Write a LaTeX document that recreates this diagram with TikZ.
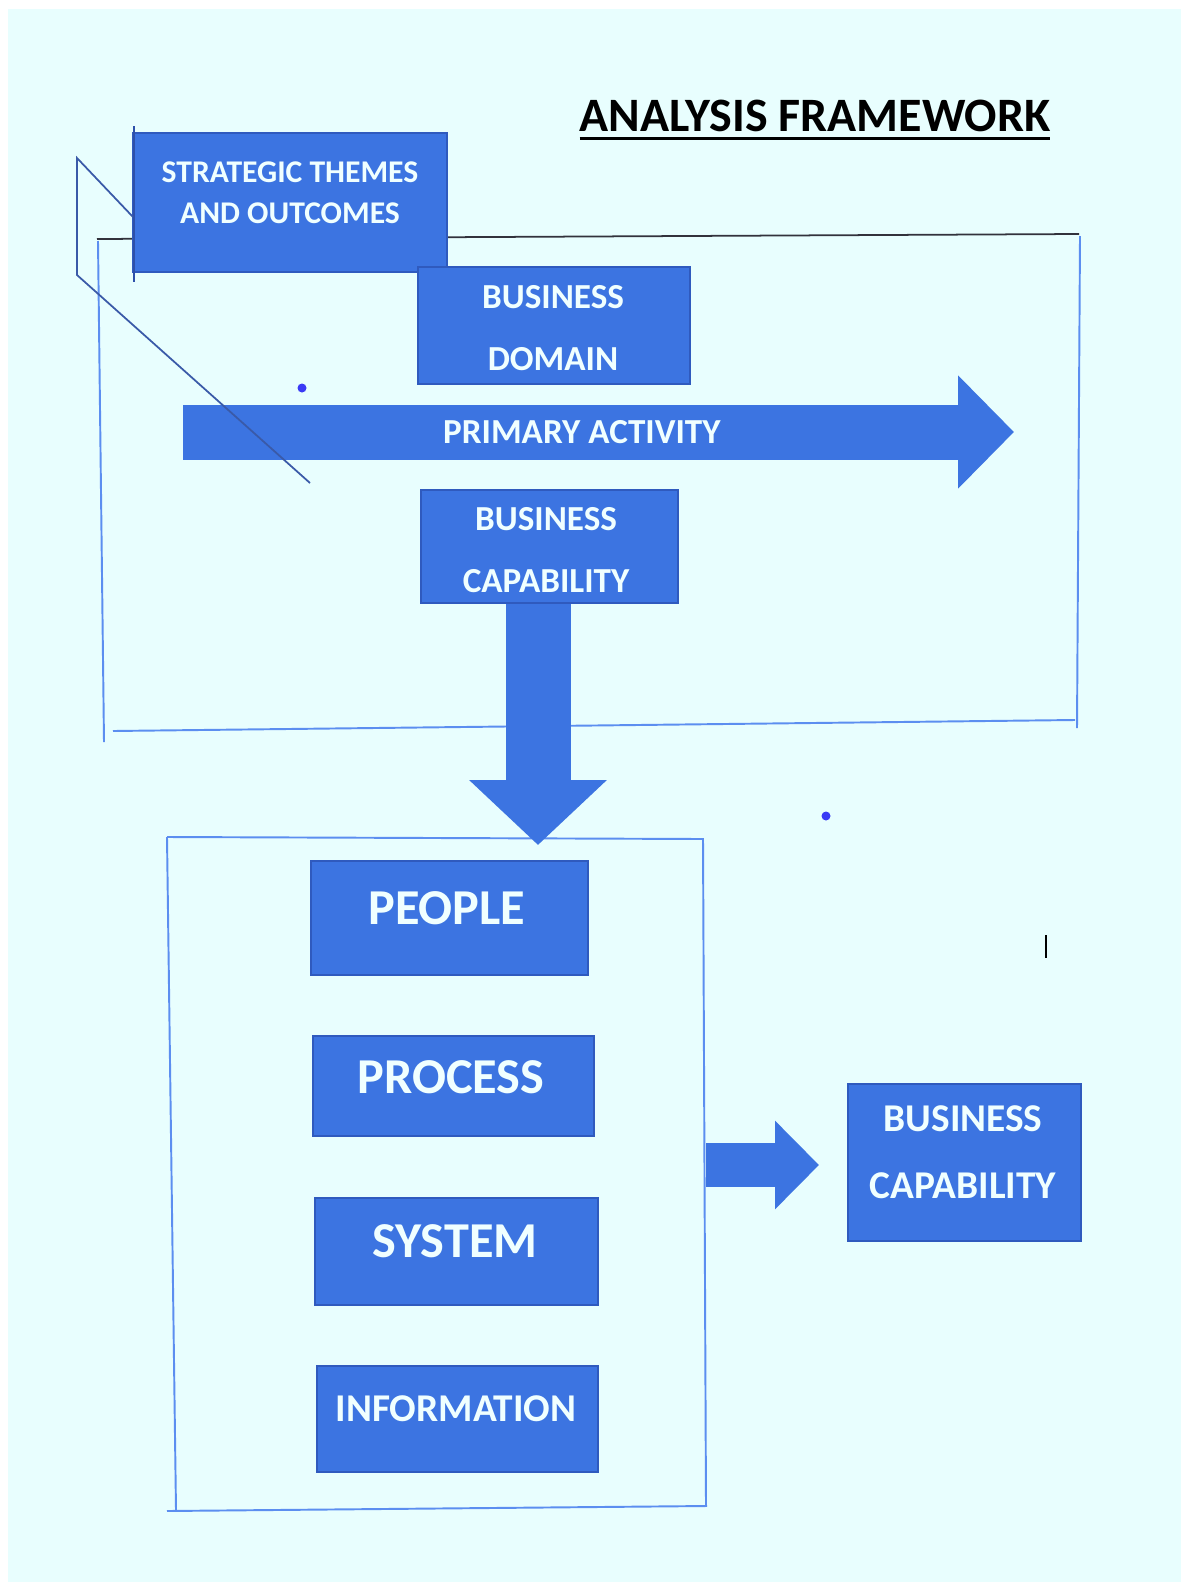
\documentclass[tikz,border=0pt]{standalone}
\usepackage{fontspec}
\setmainfont{Carlito}
\usetikzlibrary{arrows.meta,fit,positioning}
\definecolor{bgcyan}{RGB}{232,254,254}
\definecolor{boxblue}{RGB}{60,116,225}
\definecolor{boxedge}{RGB}{47,90,190}
\definecolor{frameblue}{RGB}{92,142,240}
\definecolor{sketchblue}{RGB}{58,90,168}
\definecolor{dotblue}{RGB}{58,58,245}
\definecolor{boxwhite}{RGB}{240,255,255}

\begin{document}
\begin{tikzpicture}[x=0.02cm,y=-0.02cm,every node/.style={inner sep=0pt,outer sep=0pt},
	panel/.style={fill=boxblue,draw=boxedge,line width=0.6pt,inner sep=0pt},
	boxtext/.style={text=boxwhite,align=center},
	smalltxt/.style={boxtext,font=\bfseries\fontsize{18}{23.2}\selectfont},
	midtxt/.style={boxtext,font=\bfseries\fontsize{20}{35.7}\selectfont},
	captxt/.style={boxtext,font=\bfseries\fontsize{22.4}{38}\selectfont},
	bigtxt/.style={boxtext,font=\bfseries\fontsize{28.6}{34}\selectfont},
	frameline/.style={draw=frameblue,line width=1.1pt},
	bigarrow/.style={draw=boxblue,line cap=butt}]
	% page and background
	\useasboundingbox (0,0) rectangle (1181,1582);
	\fill[white] (0,0) rectangle (1181,1582);
	\fill[bgcyan] (8,9) rectangle (1181,1582);

	% title
	\node[font=\bfseries\fontsize{27.3}{32}\selectfont] (title) at (815,116) {ANALYSIS FRAMEWORK};
	\draw[line width=1.7pt] ([yshift=-0.14cm]title.south west) -- ([yshift=-0.14cm]title.south east);

	% upper frame
	\draw[draw={rgb,255:red,50;green,50;blue,60},line width=1pt] (97,239) -- (1079,234);
	\draw[frameline] (1080,236) -- (1077,728);
	\draw[frameline] (113,731) -- (1075,720);
	\draw[frameline] (98,241) -- (104,742);

	% lower frame
	\draw[frameline] (167,837) -- (703,839);
	\draw[frameline] (703,838) -- (706,1506);
	\draw[frameline] (167,1511) -- (707,1506);
	\draw[frameline] (167,837) -- (176,1510);

	% primary activity arrow
	\coordinate (pa-tail) at (183,432);
	\coordinate (pa-head) at (1014,432);
	\draw[bigarrow,line width=1.1cm,-{Triangle[length=1.12cm,width=2.2cm]}] (pa-tail) -- (pa-head)
		node[pos=0.48,midtxt] (pa-text) {PRIMARY ACTIVITY};

	% boxes
	\node[panel,fit={(133,133) (447,272)}] (strategic) {};
	\draw[draw={rgb,255:red,45;green,80;blue,170},line width=1.2pt] (134,126) -- (134,282);
	\node[smalltxt] (strategic-text) at (290,192.5) {STRATEGIC THEMES\\AND OUTCOMES};

	\node[panel,fit={(418,267) (690,384)}] (domain) {};
	\node[midtxt] (domain-text) at (553,328) {BUSINESS\\DOMAIN};

	% capability arrow down
	\coordinate (down-tip) at (538,845);
	\draw[bigarrow,line width=1.3cm,-{Triangle[length=1.3cm,width=2.68cm]}] (538,600) -- (down-tip);

	\node[panel,fit={(421,490) (678,603)}] (cap) {};
	\node[midtxt] (cap-text) at (546,550) {BUSINESS\\CAPABILITY};

	\node[panel,fit={(311,861) (588,975)}] (people) {};
	\node[bigtxt] (people-text) at (447,908) {PEOPLE};

	\node[panel,fit={(313,1036) (594,1136)}] (process) {};
	\node[bigtxt] (process-text) at (451,1077) {PROCESS};

	\node[panel,fit={(315,1198) (598,1305)}] (system) {};
	\node[bigtxt] (system-text) at (455,1241) {SYSTEM};

	\node[panel,fit={(317,1366) (598,1472)}] (information) {};
	\node[captxt] (information-text) at (456,1409) {INFORMATION};

	\node[panel,fit={(848,1084) (1081,1241)}] (result) {};
	\node[captxt] (result-text) at (963,1152.5) {BUSINESS\\CAPABILITY};

	% arrow to result
	\coordinate (right-tail) at (706,1165);
	\coordinate (right-tip) at (819,1165);
	\draw[bigarrow,line width=0.88cm,-{Triangle[length=0.88cm,width=1.72cm]}] (right-tail) -- (right-tip);

	% stray marks
	\draw[sketchblue,line width=1pt] (133,217) -- (77,158) -- (77,275) -- (310,483);
	\fill[dotblue] (302,388) circle (4.5);
	\fill[dotblue] (826,816) circle (4.5);
	\draw[black,line width=1.2pt] (1046,935) -- (1046,958);
\end{tikzpicture}
\end{document}
